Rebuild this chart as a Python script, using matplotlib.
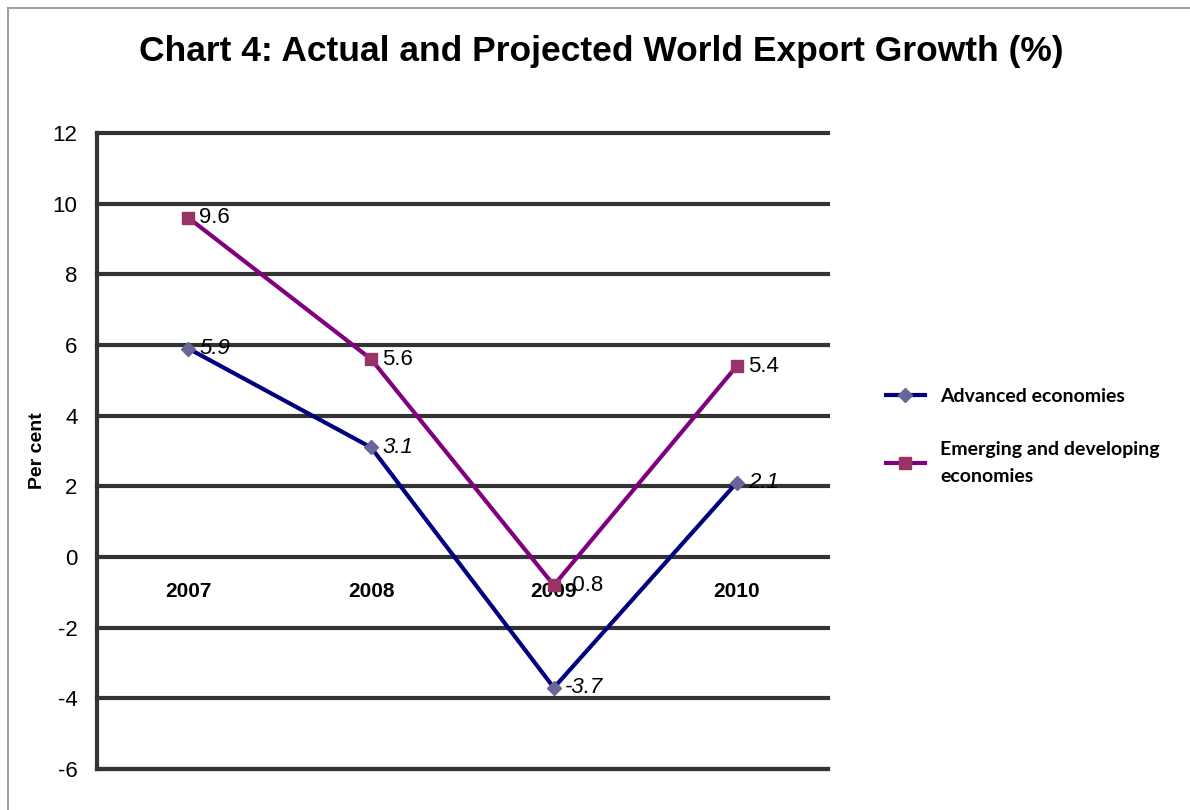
import matplotlib.pyplot as plt
from matplotlib.patches import Rectangle

years = ['2007', '2008', '2009', '2010']
advanced = [5.9, 3.1, -3.7, 2.1]
emerging = [9.6, 5.6, -0.8, 5.4]
yticks = [-6, -4, -2, 0, 2, 4, 6, 8, 10, 12]

plt.rcParams['font.family'] = ['Liberation Sans', 'DejaVu Sans']

fig = plt.figure(figsize=(11.9, 8.1), dpi=100)
fig.patches.append(Rectangle((8 / 1190, -0.01), 1.1, 1 - 8 / 810 + 0.01, transform=fig.transFigure,
                             fill=False, edgecolor='#a0a0a0', linewidth=1.5))

ax = fig.add_axes([0.0815, 0.0506, 0.6143, 0.7852])
x = list(range(len(years)))

ax.plot(x, advanced, color='#000080', linewidth=3, marker='D', markersize=7,
        markerfacecolor='#666699', markeredgecolor='#666699', label='Advanced economies', zorder=3)
ax.plot(x, emerging, color='#800080', linewidth=3, marker='s', markersize=9,
        markerfacecolor='#993366', markeredgecolor='#993366',
        label='Emerging and developing\neconomies', zorder=3)

for i, v in enumerate(advanced):
    ax.annotate(f'{v}', (x[i], v), xytext=(8, 0), textcoords='offset points',
                va='center', ha='left', fontsize=16, style='italic', zorder=4)
for i, v in enumerate(emerging):
    ax.annotate(f'{v}', (x[i], v), xytext=(8, 0), textcoords='offset points',
                va='center', ha='left', fontsize=16, zorder=4)

ax.set_xlim(-0.5, 3.5)
ax.set_ylim(-6, 12)
ax.set_yticks(yticks)
ax.set_yticklabels([str(t) for t in yticks], fontsize=16)
ax.set_xticks([])
ax.yaxis.grid(True, color='#333333', linewidth=3)
for gl in ax.get_ygridlines():
    gl.set_clip_on(False)
ax.set_axisbelow(True)
ax.tick_params(axis='y', length=0, pad=14)
for s in ['top', 'right']:
    ax.spines[s].set_visible(False)
for s in ['left', 'bottom']:
    ax.spines[s].set_color('#333333')
    ax.spines[s].set_linewidth(3)

# category labels sit just under the zero line
sec = ax.secondary_xaxis(6 / 18)
sec.set_xticks(x)
sec.set_xticklabels(years, fontsize=15, fontweight='bold')
sec.tick_params(length=0, pad=18)
sec.spines['bottom'].set_visible(False)

ax.set_ylabel('Per cent', fontsize=14, fontweight='bold')
ax.yaxis.set_label_coords(-0.07, 0.5)

fig.text(0.505, 0.936, 'Chart 4: Actual and Projected World Export Growth (%)',
         ha='center', va='center', fontsize=25.5, fontweight='bold')

leg = ax.legend(loc='center left', bbox_to_anchor=(1.055, 0.523), frameon=False,
                prop={'family': 'Lato', 'weight': 'bold', 'size': 14},
                handlelength=2.0, handletextpad=0.8, labelspacing=1.85)
leg.get_texts()[1].set_linespacing(1.7)

fig.savefig('out.png', dpi=100)
